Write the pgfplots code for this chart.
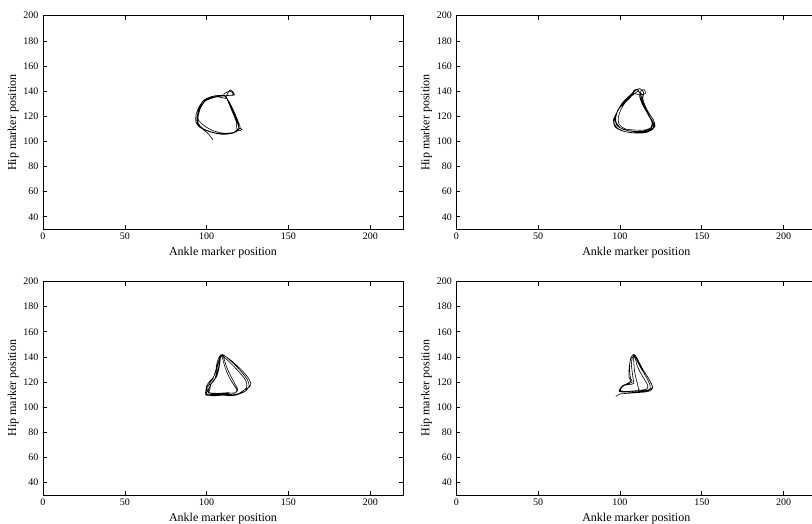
\documentclass[border=0pt]{standalone}
\usepackage{fontspec}
\setmainfont{Liberation Serif}
\usepackage{pgfplots}
\pgfplotsset{compat=1.18}
\pgfplotsset{
  panel/.style={
    width=360pt, height=213.6pt, scale only axis,
    xmin=0, xmax=220, ymin=30, ymax=200,
    xtick={0,50,100,150,200},
    ytick={40,60,80,100,120,140,160,180,200},
    tick align=inside, major tick length=4pt,
    tick style={black, line width=0.6pt},
    axis line style={black, line width=0.9pt},
    /pgf/number format/assume math mode=true,
    tick label style={font=\fontsize{10}{12}\selectfont},
    label style={font=\fontsize{12}{14}\selectfont},
    xlabel={Ankle marker position},
    ylabel={Hip marker position},
    xticklabel style={yshift=0pt},
    yticklabel style={xshift=-1pt},
    xlabel style={yshift=-1pt},
    ylabel style={yshift=-2pt},
    clip=true,
  },
  traj/.style={black, line width=0.6pt, smooth, tension=0.45, mark=none},
}
\begin{document}
\begin{tikzpicture}
% top-left
\begin{axis}[panel, at={(43pt,-15.7pt)}, anchor=north west]
\addplot[traj] coordinates {
(112,134) (106,135.5) (100,134) (96,129) (93.5,121) (93.5,115) (96,111) (101,108) (107,106) (113,106) (118,108) (120.5,111) (119.5,115) (117,123) (114,131) (112,135.5) (114.5,141) (117,137) (113,136.5)
(107,136) (100,133) (96.5,127) (94.5,120) (95,114) (98,110) (104,107) (110,105.5) (116,106.5) (119.5,109) (119,114) (116.5,122) (113.5,131) (111,136)
(105,135) (99,132) (95.5,126) (94,118) (95,112.5) (99.5,109) (106,106.5) (112,106) (117,107.5) (120,110.5) (121.5,109.5) (120.5,108.5) (118.5,110) (118,116) (115.5,124) (113,132) (111,136.5)
(104,136) (98,132.5) (95,125) (95,117) (99,112) (104,108.5) (110,106.5) (116,107) (119.5,110) (119,116) (116,125) (113,133) (110.5,137.5) (114.5,140) (116,137)
(108,136) (101,134) (97,129) (95,121) (94.5,115) (97,110.5) (101,106) (104,101)
};
\end{axis}
% top-right
\begin{axis}[panel, at={(456.3pt,-15.7pt)}, anchor=north west]
\addplot[traj] coordinates {
(111,140) (107,136) (103,131) (99.5,126) (97,120) (96.5,114) (99,110) (104,107.5) (110,106.5) (116,107) (120,109.5) (121,113) (119,118) (116,124) (113.5,130) (112,136) (113,140.5) (115,141) (115.5,138) (112,137)
(108,138) (104,133) (100.5,128) (98,122) (97.5,116) (100,111) (105,108.5) (111,107.5) (117,108) (120.5,111) (120,116) (117.5,121) (115,127) (113,133) (112.5,138) (110,141.5) (108.5,139)
(105,135) (101.5,130) (98.5,124) (96,117) (97,111.5) (101,108.5) (107,107) (113,107) (118.5,108.5) (121.5,112) (120.5,117) (118,122) (115.5,128) (114,134) (114.5,139) (112,142) (109,140)
(106,136.5) (102,131.5) (99,125.5) (97,119) (98,113) (102,109.5) (108,108) (114,108) (119,110) (120,114) (118.5,119) (116,125) (114,131) (113,136) (111,141) (108.5,140.5)
(106.5,135) (103,130.5) (100.5,125) (99,119) (99.5,113.5) (103,110) (109,109) (115,109) (119,111) (119.5,115.5) (117.5,120.5) (115,126.5) (113.5,132) (114,137) (111.5,139)
};
\end{axis}
% bottom-left
\begin{axis}[panel, at={(43pt,-281.5pt)}, anchor=north west]
\addplot[traj] coordinates {
(109,141.5) (107.5,137) (106.5,132) (106,127) (104.5,121) (102,118) (100,116) (100,112) (99.5,109.5) (104,109.5) (110,110) (116,109.5) (120,110.5) (124,113) (126,117) (125,121.5) (122,127) (117,134) (112,140) (109.5,142)
(108.5,140) (107,135) (105.5,129) (104,123) (102,119.5) (101,117) (100.5,113) (100,110.5) (105,110) (111,110.5) (117,110) (121.5,112) (124.5,116) (124,121) (120.5,127) (115.5,134) (111,139.5) (109,141)
(108,139) (107.5,133) (106.5,127.5) (105,122) (103,119) (101.5,115) (101,111.5) (106,110.5) (112,111) (117.5,111.5) (119,114) (117.5,118) (115,124) (112.5,131) (111,137) (110,141) (108.5,141.5)
(107,138) (106,133) (105.5,128) (104,123.5) (101.5,120) (100,117) (99.5,113) (99.5,110) (104,109) (110,109.5) (115,109) (119,110) (121,112) (126,116) (127,119) (125,124) (121,130) (116,136) (111.5,140.5) (109.5,141)
(108.5,139.5) (108,134) (107,128) (106,124) (104,121) (102.5,118) (102,114) (101.5,111.5) (107,111) (113,111.5) (117,111) (118.5,113.5) (117,117) (114.5,122) (112,129) (110.5,135) (109.5,140)
};
\end{axis}
% bottom-right
\begin{axis}[panel, at={(456.3pt,-281.5pt)}, anchor=north west]
\addplot[traj] coordinates {
(97.5,108.5) (100,110.5) (105,111) (110,111.5) (115,112) (118.5,113) (120,115.5) (119,119) (117,124) (114.5,129) (112,135) (110,140) (108.5,142) (107,140) (106,135) (105.5,129) (105.5,124) (106.5,120.5) (104,118.5) (101.5,117) (100,114.5) (99.5,112.5)
(102,112) (107,112) (112,112.5) (116,113) (118.5,115) (118,119) (116,124) (113.5,129.5) (111,135.5) (109.5,140.5) (108,141.5) (106.5,139) (106,134) (106,128) (106.5,123) (107.5,120) (105,118.5) (102,117) (100.5,115) (100,113)
(104,112.5) (109,113) (113,113.5) (116.5,114.5) (117,117.5) (115,122) (112.5,127.5) (110.5,133) (109.5,138.5) (108.5,140.5) (108.5,135) (109,128) (110,122) (111,117) (111.5,114) (114,113) (118,114)
(120,116) (118.5,120.5) (116,126) (113,131.5) (110.5,137.5) (109,141) (107.5,139) (107,134) (107.5,128) (108,123) (108.5,119) (106,118) (103,117.5) (101,115.5) (100.5,113) (105,112) (110,112) (114,112.5) (118,113.5)
};
\end{axis}
\pgfresetboundingbox
\useasboundingbox (0,0) rectangle (812pt,-524pt);
\end{tikzpicture}
\end{document}
